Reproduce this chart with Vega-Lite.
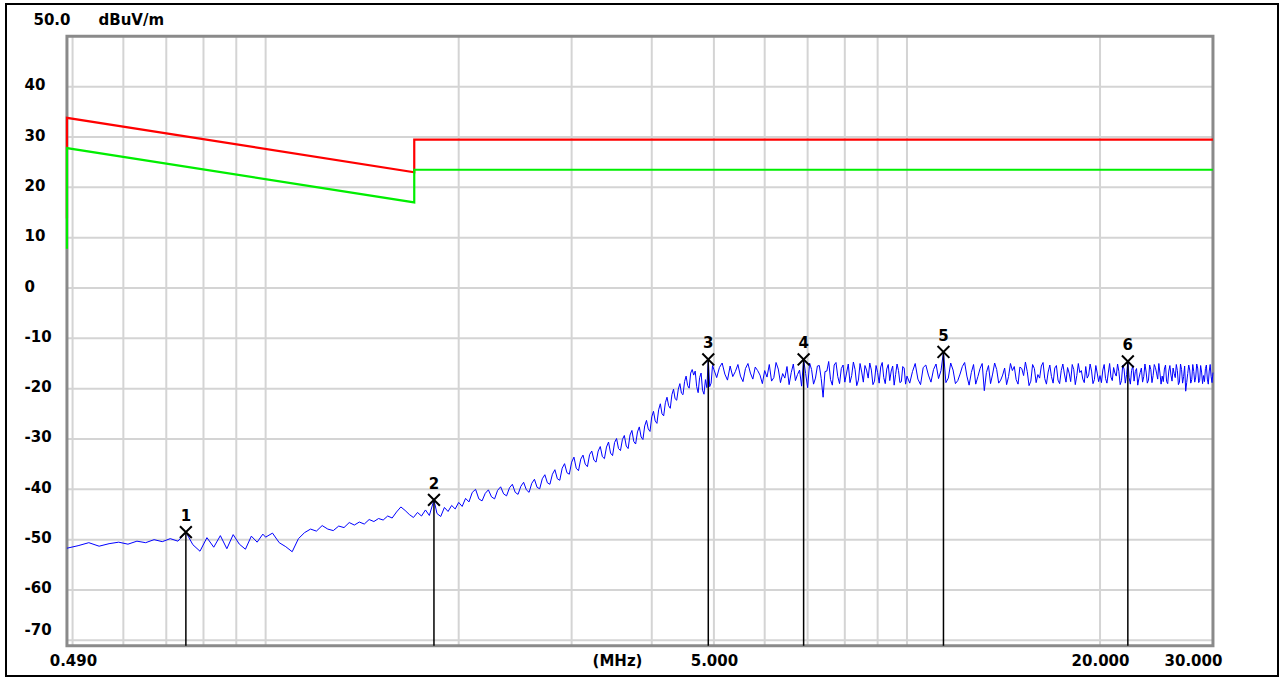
{
  "$schema": "https://vega.github.io/schema/vega-lite/v6.json",
  "width": 1272,
  "height": 672,
  "autosize": {"type": "none"},
  "padding": {"left": 6, "top": 4, "right": 5, "bottom": 3},
  "background": "white",
  "config": {"view": {"stroke": "#000000", "strokeWidth": 2}},
  "datasets": {
    "gridv": [{"f":0.5},{"f":0.6},{"f":0.7},{"f":0.8},{"f":0.9},{"f":1},{"f":2},{"f":3},{"f":4},{"f":5},{"f":6},{"f":7},{"f":8},{"f":9},{"f":10},{"f":20}],
    "gridh": [{"v":40},{"v":30},{"v":20},{"v":10},{"v":0},{"v":-10},{"v":-20},{"v":-30},{"v":-40},{"v":-50},{"v":-60},{"v":-70}],
    "red": [{"o":0,"f":0.49,"v":13.8},{"o":1,"f":0.49,"v":33.8},{"o":2,"f":1.705,"v":23.0},{"o":3,"f":1.705,"v":29.5},{"o":4,"f":30,"v":29.5}],
    "green": [{"o":0,"f":0.49,"v":7.8},{"o":1,"f":0.49,"v":27.8},{"o":2,"f":1.705,"v":17.0},{"o":3,"f":1.705,"v":23.5},{"o":4,"f":30,"v":23.5}],
    "markers": [
      {"f":0.751,"v":-48.5,"n":"1"},{"f":1.83,"v":-42.1,"n":"2"},{"f":4.9,"v":-14.2,"n":"3"},
      {"f":6.9,"v":-14.2,"n":"4"},{"f":11.4,"v":-12.7,"n":"5"},{"f":22.1,"v":-14.6,"n":"6"}],
    "trace": [
      {"f":0.49,"v":-51.7},{"f":0.51,"v":-51.2},{"f":0.53,"v":-50.6},{"f":0.55,"v":-51.3},{"f":0.57,"v":-50.8},
      {"f":0.59,"v":-50.5},{"f":0.61,"v":-50.9},{"f":0.63,"v":-50.3},{"f":0.65,"v":-50.6},{"f":0.67,"v":-50.0},
      {"f":0.69,"v":-50.4},{"f":0.71,"v":-49.8},{"f":0.73,"v":-50.3},{"f":0.751,"v":-48.5},{"f":0.77,"v":-51.0},
      {"f":0.79,"v":-52.3},{"f":0.81,"v":-49.6},{"f":0.83,"v":-51.5},{"f":0.85,"v":-49.2},{"f":0.87,"v":-51.8},
      {"f":0.89,"v":-49.0},{"f":0.91,"v":-50.9},{"f":0.93,"v":-51.9},{"f":0.95,"v":-49.3},{"f":0.97,"v":-50.5},
      {"f":0.99,"v":-48.9},{"f":1.0,"v":-49.5},
      {"f":1.025,"v":-48.7},{"f":1.05,"v":-50.6},{"f":1.075,"v":-51.4},{"f":1.1,"v":-52.4},{"f":1.125,"v":-49.8},
      {"f":1.15,"v":-48.6},{"f":1.175,"v":-47.9},{"f":1.2,"v":-48.3},{"f":1.225,"v":-47.2},{"f":1.25,"v":-47.9},
      {"f":1.275,"v":-48.2},{"f":1.3,"v":-47.3},{"f":1.325,"v":-47.6},{"f":1.35,"v":-46.6},{"f":1.375,"v":-47.1},
      {"f":1.4,"v":-46.5},{"f":1.425,"v":-46.9},{"f":1.45,"v":-46.0},{"f":1.475,"v":-46.4},{"f":1.5,"v":-45.8},
      {"f":1.525,"v":-46.1},{"f":1.55,"v":-45.3},{"f":1.575,"v":-45.7},{"f":1.6,"v":-44.5},{"f":1.625,"v":-43.5},
      {"f":1.65,"v":-44.2},{"f":1.675,"v":-45.0},{"f":1.7,"v":-45.6},{"f":1.725,"v":-44.6},{"f":1.75,"v":-45.3},
      {"f":1.775,"v":-44.1},{"f":1.8,"v":-45.2},{"f":1.83,"v":-42.1},{"f":1.85,"v":-44.8},{"f":1.875,"v":-45.4},
      {"f":1.9,"v":-43.6},{"f":1.925,"v":-44.4},{"f":1.95,"v":-43.2},{"f":1.975,"v":-43.9},{"f":2.0,"v":-42.6},
      {"f":2.05,"v":-41.8},{"f":2.1,"v":-40.6},{"f":2.15,"v":-41.9},{"f":2.2,"v":-40.8},{"f":2.25,"v":-41.5},
      {"f":2.3,"v":-40.2},{"f":2.35,"v":-40.9},{"f":2.4,"v":-39.7},{"f":2.45,"v":-40.6},{"f":2.5,"v":-39.4},
      {"f":2.55,"v":-40.1},{"f":2.6,"v":-38.8},{"f":2.65,"v":-39.6},{"f":2.7,"v":-37.9},{"f":2.75,"v":-38.7},
      {"f":2.8,"v":-37.0},{"f":2.85,"v":-37.9},{"f":2.9,"v":-35.8},{"f":2.95,"v":-36.7},{"f":3.0,"v":-34.6},
      {"f":3.05,"v":-35.8},{"f":3.1,"v":-34.0},{"f":3.15,"v":-35.0},{"f":3.2,"v":-33.1},{"f":3.25,"v":-34.2},
      {"f":3.3,"v":-32.4},{"f":3.35,"v":-33.5},{"f":3.4,"v":-31.6},{"f":3.45,"v":-32.8},{"f":3.5,"v":-30.7},
      {"f":3.55,"v":-31.9},{"f":3.6,"v":-30.1},{"f":3.65,"v":-31.4},{"f":3.7,"v":-29.2},{"f":3.75,"v":-30.5},
      {"f":3.8,"v":-28.6},{"f":3.85,"v":-29.6},{"f":3.9,"v":-27.4},{"f":3.95,"v":-28.0},{"f":4.0,"v":-25.6},
      {"f":4.05,"v":-26.4},{"f":4.1,"v":-24.2},{"f":4.15,"v":-25.0},{"f":4.2,"v":-22.8},{"f":4.25,"v":-23.4},
      {"f":4.3,"v":-21.2},{"f":4.35,"v":-22.0},{"f":4.4,"v":-20.1},{"f":4.45,"v":-20.9},{"f":4.5,"v":-18.6},
      {"f":4.55,"v":-19.4},{"f":4.6,"v":-16.9},{"f":4.65,"v":-17.3},{"f":4.7,"v":-19.6},{"f":4.75,"v":-17.8},
      {"f":4.8,"v":-20.3},{"f":4.85,"v":-18.2},{"f":4.9,"v":-14.2},{"f":4.95,"v":-18.9},{"f":5.0,"v":-16.2},
      {"f":5.1,"v":-15.8},{"f":5.2,"v":-17.1},{"f":5.3,"v":-15.5},{"f":5.4,"v":-16.6},{"f":5.5,"v":-17.5},
      {"f":5.6,"v":-16.0},{"f":5.7,"v":-16.9},{"f":5.8,"v":-15.7},{"f":5.9,"v":-17.3},{"f":6.0,"v":-16.4},
      {"f":6.1,"v":-15.2},{"f":6.2,"v":-17.8},{"f":6.3,"v":-16.1},{"f":6.4,"v":-17.0},{"f":6.5,"v":-15.6},
      {"f":6.6,"v":-16.8},{"f":6.7,"v":-18.4},{"f":6.8,"v":-16.3},{"f":6.9,"v":-14.2},{"f":7.0,"v":-19.8},
      {"f":7.1,"v":-16.2},{"f":7.2,"v":-17.9},{"f":7.3,"v":-15.4},{"f":7.4,"v":-21.7},{"f":7.5,"v":-16.5},
      {"f":7.6,"v":-18.2},{"f":7.7,"v":-15.3},{"f":7.8,"v":-17.6},{"f":7.9,"v":-16.0},{"f":8.0,"v":-18.7},
      {"f":8.1,"v":-15.1},{"f":8.2,"v":-17.4},{"f":8.3,"v":-16.2},{"f":8.4,"v":-18.3},{"f":8.5,"v":-16.7},
      {"f":8.6,"v":-15.4},{"f":8.7,"v":-17.9},{"f":8.8,"v":-16.3},{"f":8.9,"v":-18.5},{"f":9.0,"v":-16.8},
      {"f":9.1,"v":-15.7},{"f":9.2,"v":-17.8},{"f":9.3,"v":-16.1},{"f":9.4,"v":-18.4},{"f":9.5,"v":-15.5},
      {"f":9.6,"v":-17.2},{"f":9.7,"v":-16.4},{"f":9.8,"v":-18.6},{"f":9.9,"v":-15.9},{"f":10.0,"v":-17.5},
      {"f":10.2,"v":-16.6},{"f":10.4,"v":-18.1},{"f":10.6,"v":-15.8},{"f":10.8,"v":-17.3},{"f":11.0,"v":-16.2},
      {"f":11.2,"v":-18.0},{"f":11.4,"v":-12.7},{"f":11.6,"v":-17.9},{"f":11.8,"v":-16.3},{"f":12.0,"v":-18.4},
      {"f":12.2,"v":-15.6},{"f":12.4,"v":-17.5},{"f":12.6,"v":-16.8},{"f":12.8,"v":-19.1},{"f":13.0,"v":-16.0},
      {"f":13.2,"v":-20.4},{"f":13.4,"v":-15.4},{"f":13.6,"v":-17.1},{"f":13.8,"v":-16.2},{"f":14.0,"v":-18.3},
      {"f":14.2,"v":-15.9},{"f":14.4,"v":-17.6},{"f":14.6,"v":-16.4},{"f":14.8,"v":-18.2},{"f":15.0,"v":-15.7},
      {"f":15.2,"v":-17.4},{"f":15.4,"v":-16.6},{"f":15.6,"v":-18.5},{"f":15.8,"v":-16.0},{"f":16.0,"v":-17.2},
      {"f":16.2,"v":-15.5},{"f":16.4,"v":-18.0},{"f":16.6,"v":-16.7},{"f":16.8,"v":-17.6},{"f":17.0,"v":-15.9},
      {"f":17.2,"v":-18.3},{"f":17.4,"v":-16.4},{"f":17.6,"v":-17.1},{"f":17.8,"v":-15.8},{"f":18.0,"v":-18.6},
      {"f":18.2,"v":-16.2},{"f":18.4,"v":-17.4},{"f":18.6,"v":-16.8},{"f":18.8,"v":-18.1},{"f":19.0,"v":-15.6},
      {"f":19.2,"v":-17.3},{"f":19.4,"v":-16.5},{"f":19.6,"v":-18.2},{"f":19.8,"v":-16.9},{"f":20.0,"v":-17.4},
      {"f":20.2,"v":-16.3},{"f":20.4,"v":-18.0},{"f":20.6,"v":-16.9},{"f":20.8,"v":-17.7},{"f":21.0,"v":-15.8},
      {"f":21.2,"v":-17.5},{"f":21.4,"v":-16.6},{"f":21.6,"v":-18.4},{"f":21.8,"v":-16.1},{"f":22.0,"v":-17.2},
      {"f":22.1,"v":-14.6},{"f":22.2,"v":-17.8},{"f":22.4,"v":-16.4},{"f":22.6,"v":-18.5},{"f":22.8,"v":-16.0},
      {"f":23.0,"v":-17.9},{"f":23.2,"v":-15.9},{"f":23.4,"v":-17.6},{"f":23.6,"v":-16.7},{"f":23.8,"v":-18.3},
      {"f":24.0,"v":-16.2},{"f":24.2,"v":-17.4},{"f":24.4,"v":-15.8},{"f":24.6,"v":-18.1},{"f":24.8,"v":-16.9},
      {"f":25.0,"v":-17.5},{"f":25.2,"v":-16.1},{"f":25.4,"v":-18.6},{"f":25.6,"v":-16.5},{"f":25.8,"v":-17.3},
      {"f":26.0,"v":-15.9},{"f":26.2,"v":-17.8},{"f":26.4,"v":-16.4},{"f":26.6,"v":-18.7},{"f":26.8,"v":-16.2},
      {"f":27.0,"v":-17.6},{"f":27.2,"v":-20.5},{"f":27.4,"v":-17.0},{"f":27.6,"v":-16.3},{"f":27.8,"v":-18.2},
      {"f":28.0,"v":-16.6},{"f":28.2,"v":-17.7},{"f":28.4,"v":-15.9},{"f":28.6,"v":-18.4},{"f":28.8,"v":-16.7},
      {"f":29.0,"v":-17.4},{"f":29.2,"v":-16.0},{"f":29.4,"v":-18.1},{"f":29.6,"v":-16.5},{"f":29.8,"v":-17.6},
      {"f":30.0,"v":-16.8},
      {"f":2.025,"v":-43.4},{"f":2.075,"v":-42.5},{"f":2.125,"v":-40.0},{"f":2.175,"v":-42.3},{"f":2.225,"v":-40.1},
      {"f":2.275,"v":-41.9},{"f":2.325,"v":-39.5},{"f":2.375,"v":-41.3},{"f":2.425,"v":-39.0},{"f":2.475,"v":-41.0},
      {"f":2.525,"v":-38.6},{"f":2.575,"v":-40.6},{"f":2.625,"v":-38.0},{"f":2.675,"v":-39.9},{"f":2.725,"v":-37.1},
      {"f":2.775,"v":-39.0},{"f":2.825,"v":-36.1},{"f":2.875,"v":-38.2},{"f":2.925,"v":-34.9},{"f":2.975,"v":-37.0},
      {"f":3.025,"v":-33.6},{"f":3.075,"v":-36.3},{"f":3.125,"v":-33.2},{"f":3.175,"v":-35.5},{"f":3.225,"v":-32.4},
      {"f":3.275,"v":-34.6},{"f":3.325,"v":-31.5},{"f":3.375,"v":-33.9},{"f":3.425,"v":-30.6},{"f":3.475,"v":-33.3},
      {"f":3.525,"v":-29.9},{"f":3.575,"v":-32.3},{"f":3.625,"v":-29.3},{"f":3.675,"v":-31.9},{"f":3.725,"v":-28.3},
      {"f":3.775,"v":-31.0},{"f":3.825,"v":-27.6},{"f":3.875,"v":-30.1},{"f":3.925,"v":-26.3},{"f":3.975,"v":-28.5},
      {"f":4.025,"v":-24.5},{"f":4.075,"v":-26.9},{"f":4.125,"v":-23.0},{"f":4.175,"v":-25.4},{"f":4.225,"v":-21.7},
      {"f":4.275,"v":-23.9},{"f":4.325,"v":-20.1},{"f":4.375,"v":-22.3},{"f":4.425,"v":-19.0},{"f":4.475,"v":-21.2},
      {"f":4.525,"v":-17.5},{"f":4.575,"v":-19.9},{"f":4.625,"v":-16.2},{"f":4.675,"v":-16.5},{"f":4.725,"v":-20.8},
      {"f":4.775,"v":-16.9},{"f":4.825,"v":-21.1},{"f":4.875,"v":-19.8},{"f":4.925,"v":-19.6},{"f":4.975,"v":-15.4},
      {"f":5.05,"v":-17.8},{"f":5.15,"v":-14.9},{"f":5.25,"v":-18.3},{"f":5.35,"v":-17.6},{"f":5.45,"v":-15.2},
      {"f":5.55,"v":-18.6},{"f":5.65,"v":-15.0},{"f":5.75,"v":-18.1},{"f":5.85,"v":-16.4},{"f":5.95,"v":-19.0},
      {"f":6.05,"v":-17.7},{"f":6.15,"v":-18.5},{"f":6.25,"v":-14.8},{"f":6.35,"v":-18.8},{"f":6.45,"v":-17.9},
      {"f":6.55,"v":-19.2},{"f":6.65,"v":-15.1},{"f":6.75,"v":-17.2},{"f":6.85,"v":-19.5},{"f":6.95,"v":-17.0},
      {"f":7.05,"v":-14.9},{"f":7.15,"v":-19.1},{"f":7.25,"v":-15.5},{"f":7.35,"v":-18.0},{"f":7.45,"v":-16.6},
      {"f":7.55,"v":-14.6},{"f":7.65,"v":-19.3},{"f":7.75,"v":-14.8},{"f":7.85,"v":-19.0},{"f":7.95,"v":-15.3},
      {"f":8.05,"v":-16.9},{"f":8.15,"v":-18.8},{"f":8.25,"v":-14.7},{"f":8.35,"v":-19.4},{"f":8.45,"v":-15.0},
      {"f":8.55,"v":-18.7},{"f":8.65,"v":-16.3},{"f":8.75,"v":-14.9},{"f":8.85,"v":-19.2},{"f":8.95,"v":-15.4},
      {"f":9.05,"v":-18.9},{"f":9.15,"v":-14.8},{"f":9.25,"v":-19.0},{"f":9.35,"v":-15.2},{"f":9.45,"v":-16.5},
      {"f":9.55,"v":-19.3},{"f":9.65,"v":-15.1},{"f":9.75,"v":-18.8},{"f":9.85,"v":-15.6},{"f":9.95,"v":-19.1},
      {"f":10.1,"v":-18.9},{"f":10.3,"v":-15.0},{"f":10.5,"v":-19.2},{"f":10.7,"v":-15.3},{"f":10.9,"v":-18.7},
      {"f":11.1,"v":-15.1},{"f":11.3,"v":-16.4},{"f":11.5,"v":-18.8},{"f":11.7,"v":-14.9},{"f":11.9,"v":-19.0},
      {"f":12.1,"v":-17.1},{"f":12.3,"v":-14.8},{"f":12.5,"v":-19.3},{"f":12.7,"v":-15.2},{"f":12.9,"v":-17.6},
      {"f":13.1,"v":-15.0},{"f":13.3,"v":-16.8},{"f":13.5,"v":-19.0},{"f":13.7,"v":-14.9},{"f":13.9,"v":-18.9},
      {"f":14.1,"v":-17.3},{"f":14.3,"v":-19.2},{"f":14.5,"v":-15.0},{"f":14.7,"v":-15.6},{"f":14.9,"v":-19.1},
      {"f":15.1,"v":-16.0},{"f":15.3,"v":-14.7},{"f":15.5,"v":-19.4},{"f":15.7,"v":-15.2},{"f":15.9,"v":-18.8},
      {"f":16.1,"v":-17.9},{"f":16.3,"v":-14.8},{"f":16.5,"v":-19.1},{"f":16.7,"v":-15.3},{"f":16.9,"v":-18.9},
      {"f":17.1,"v":-15.4},{"f":17.3,"v":-19.0},{"f":17.5,"v":-15.1},{"f":17.7,"v":-18.7},{"f":17.9,"v":-16.9},
      {"f":18.1,"v":-15.2},{"f":18.3,"v":-19.2},{"f":18.5,"v":-15.0},{"f":18.7,"v":-16.4},{"f":18.9,"v":-18.8},
      {"f":19.1,"v":-17.9},{"f":19.3,"v":-15.1},{"f":19.5,"v":-19.0},{"f":19.7,"v":-15.4},{"f":19.9,"v":-18.6},
      {"f":20.1,"v":-18.8},{"f":20.3,"v":-15.2},{"f":20.5,"v":-18.9},{"f":20.7,"v":-15.0},{"f":20.9,"v":-18.4},
      {"f":21.1,"v":-16.9},{"f":21.3,"v":-15.1},{"f":21.5,"v":-19.2},{"f":21.7,"v":-15.3},{"f":21.9,"v":-18.9},
      {"f":22.3,"v":-19.1},{"f":22.5,"v":-15.4},{"f":22.7,"v":-16.6},{"f":22.9,"v":-19.3},{"f":23.1,"v":-16.8},
      {"f":23.3,"v":-18.7},{"f":23.5,"v":-15.1},{"f":23.7,"v":-18.9},{"f":23.9,"v":-15.3},{"f":24.1,"v":-18.8},
      {"f":24.3,"v":-15.2},{"f":24.5,"v":-16.9},{"f":24.7,"v":-15.0},{"f":24.9,"v":-19.1},{"f":25.1,"v":-18.6},
      {"f":25.3,"v":-15.3},{"f":25.5,"v":-19.0},{"f":25.7,"v":-15.4},{"f":25.9,"v":-18.5},{"f":26.1,"v":-17.0},
      {"f":26.3,"v":-15.2},{"f":26.5,"v":-19.2},{"f":26.7,"v":-15.1},{"f":26.9,"v":-18.9},{"f":27.1,"v":-15.5},
      {"f":27.3,"v":-18.8},{"f":27.5,"v":-15.3},{"f":27.7,"v":-18.9},{"f":27.9,"v":-15.2},{"f":28.1,"v":-18.7},
      {"f":28.3,"v":-15.1},{"f":28.5,"v":-18.8},{"f":28.7,"v":-15.4},{"f":28.9,"v":-19.0},{"f":29.1,"v":-18.6},
      {"f":29.3,"v":-15.3},{"f":29.5,"v":-19.1},{"f":29.7,"v":-15.2},{"f":29.9,"v":-18.8}
    ]
  },
  "layer": [
    {
      "data": {"name": "gridv"},
      "mark": {"type": "rule", "color": "#d4d4d4", "strokeWidth": 2},
      "encoding": {
        "x": {"field": "f", "type": "quantitative", "scale": {"type": "log", "domain": [0.3937, 37.89], "nice": false}},
        "y": {"datum": -71.1, "type": "quantitative", "scale": {"domain": [-77.09, 56.43], "nice": false, "zero": false}},
        "y2": {"datum": 50}
      }
    },
    {
      "data": {"name": "gridh"},
      "mark": {"type": "rule", "color": "#d4d4d4", "strokeWidth": 2},
      "encoding": {
        "y": {"field": "v", "type": "quantitative", "scale": {"domain": [-77.09, 56.43], "nice": false, "zero": false}},
        "x": {"datum": 0.49, "type": "quantitative", "scale": {"type": "log", "domain": [0.3937, 37.89], "nice": false}},
        "x2": {"datum": 30}
      }
    },
    {
      "data": {"values": [{"k": 1}]},
      "mark": {"type": "rect", "fill": "transparent", "stroke": "#8a8a8a", "strokeWidth": 3},
      "encoding": {
        "x": {"datum": 0.49, "type": "quantitative", "scale": {"type": "log", "domain": [0.3937, 37.89], "nice": false}},
        "x2": {"datum": 30},
        "y": {"datum": -71.1, "type": "quantitative", "scale": {"domain": [-77.09, 56.43], "nice": false, "zero": false}},
        "y2": {"datum": 50}
      }
    },
    {
      "data": {"name": "red"},
      "mark": {"type": "line", "color": "#ff0000", "strokeWidth": 2.2},
      "encoding": {
        "x": {"field": "f", "type": "quantitative", "scale": {"type": "log", "domain": [0.3937, 37.89], "nice": false}},
        "y": {"field": "v", "type": "quantitative", "scale": {"domain": [-77.09, 56.43], "nice": false, "zero": false}},
        "order": {"field": "o"}
      }
    },
    {
      "data": {"name": "green"},
      "mark": {"type": "line", "color": "#00ee00", "strokeWidth": 2.2},
      "encoding": {
        "x": {"field": "f", "type": "quantitative", "scale": {"type": "log", "domain": [0.3937, 37.89], "nice": false}},
        "y": {"field": "v", "type": "quantitative", "scale": {"domain": [-77.09, 56.43], "nice": false, "zero": false}},
        "order": {"field": "o"}
      }
    },
    {
      "data": {"name": "trace"},
      "mark": {"type": "line", "color": "#0000ff", "strokeWidth": 1},
      "encoding": {
        "x": {
          "field": "f", "type": "quantitative",
          "scale": {"type": "log", "domain": [0.3937, 37.89], "nice": false},
          "axis": {
            "orient": "bottom", "offset": -30, "values": [0.49, 5, 20, 30],
            "labelExpr": "datum.value < 1 ? '0.490' : format(datum.value, '.3f')",
            "domain": false, "ticks": false, "tickSize": 0, "grid": false,
            "labelPadding": 14, "labelBaseline": "middle", "labelAlign": "center",
            "labelOffset": {"condition": [{"test": "datum.value < 1", "value": 6}, {"test": "datum.value > 25", "value": -20}], "value": 0},
            "labelFont": "DejaVu Sans", "labelFontWeight": "bold", "labelFontSize": 15, "labelColor": "#000000",
            "labelOverlap": false, "labelFlush": false, "labelBound": false,
            "title": "(MHz)", "titleX": 611, "titleY": 14, "titleAlign": "center", "titleBaseline": "middle",
            "titleFont": "DejaVu Sans", "titleFontWeight": "bold", "titleFontSize": 15, "titleColor": "#000000"
          }
        },
        "y": {
          "field": "v", "type": "quantitative",
          "scale": {"domain": [-77.09, 56.43], "nice": false, "zero": false},
          "axis": {
            "orient": "left", "offset": -18, "values": [50, 40, 30, 20, 10, 0, -10, -20, -30, -40, -50, -60, -70],
            "labelExpr": "datum.value == 50 ? '50.0' : '' + datum.value",
            "domain": false, "ticks": false, "tickSize": 0, "grid": false,
            "labelAlign": "left", "labelBaseline": "middle",
            "labelPadding": {"condition": {"test": "datum.value == 50", "value": -9}, "value": 0},
            "labelOffset": {"condition": [{"test": "datum.value == 50", "value": -17}, {"test": "datum.value == -70", "value": -11}], "value": -2},
            "labelFont": "DejaVu Sans", "labelFontWeight": "bold", "labelFontSize": 15, "labelColor": "#000000",
            "labelOverlap": false, "labelFlush": false, "labelBound": false,
            "title": "dBuV/m", "titleAngle": 0, "titleX": 74, "titleY": 15.5, "titleAlign": "left", "titleBaseline": "middle",
            "titleFont": "DejaVu Sans", "titleFontWeight": "bold", "titleFontSize": 15, "titleColor": "#000000"
          }
        }
      }
    },
    {
      "data": {"name": "markers"},
      "mark": {"type": "rule", "color": "#000000", "strokeWidth": 1.5},
      "encoding": {
        "x": {"field": "f", "type": "quantitative", "scale": {"type": "log", "domain": [0.3937, 37.89], "nice": false}},
        "y": {"field": "v", "type": "quantitative", "scale": {"domain": [-77.09, 56.43], "nice": false, "zero": false}},
        "y2": {"datum": -71.1}
      }
    },
    {
      "data": {"name": "markers"},
      "mark": {"type": "point", "shape": "M-1,-1L1,1M-1,1L1,-1", "size": 140, "filled": false, "stroke": "#000000", "strokeWidth": 2, "opacity": 1},
      "encoding": {
        "x": {"field": "f", "type": "quantitative", "scale": {"type": "log", "domain": [0.3937, 37.89], "nice": false}},
        "y": {"field": "v", "type": "quantitative", "scale": {"domain": [-77.09, 56.43], "nice": false, "zero": false}}
      }
    },
    {
      "data": {"name": "markers"},
      "mark": {"type": "text", "dy": -16, "font": "DejaVu Sans", "fontWeight": "bold", "fontSize": 15, "color": "#000000", "baseline": "middle", "align": "center"},
      "encoding": {
        "x": {"field": "f", "type": "quantitative", "scale": {"type": "log", "domain": [0.3937, 37.89], "nice": false}},
        "y": {"field": "v", "type": "quantitative", "scale": {"domain": [-77.09, 56.43], "nice": false, "zero": false}},
        "text": {"field": "n"}
      }
    }
  ]
}
